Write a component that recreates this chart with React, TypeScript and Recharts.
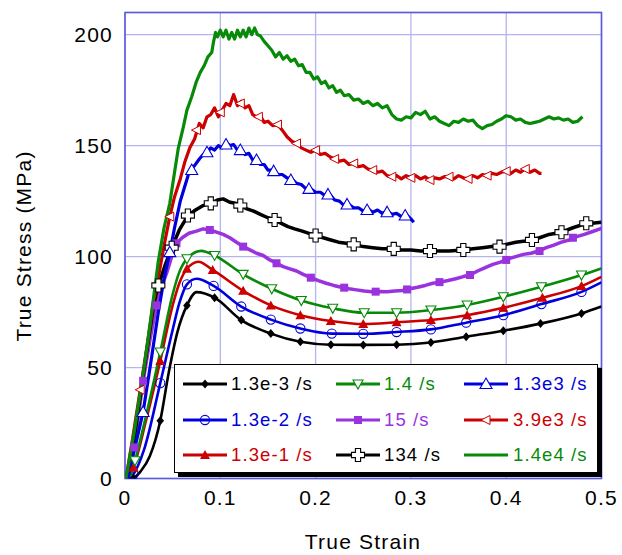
import React from 'react';
import { LineChart, Line, XAxis, YAxis, CartesianGrid, ReferenceArea, Label } from 'recharts';

type P = [number, number];

const xTicks = [0, 0.1, 0.2, 0.3, 0.4, 0.5];
const yTicks = [0, 50, 100, 150, 200];

// 1.3e-3 /s
const r13em3Marks: P[] = [[0.009,0],[0.037,26],[0.065,78],[0.094,81.5],[0.122,71.4],[0.153,65.3],[0.184,61.6],[0.216,60.3],[0.25,60.2],[0.285,60.3],[0.321,61.3],[0.358,63.9],[0.397,66.6],[0.436,69.8],[0.479,74.4]];
const r13em3Extra: P[] = [[0.016,3],[0.026,10],[0.046,48],[0.055,66],[0.075,84],[0.5,77.5]];
// 1.3e-2 /s
const r13em2Marks: P[] = [[0.009,2],[0.037,43],[0.065,87.5],[0.093,86.8],[0.122,77.5],[0.153,71.6],[0.184,67.6],[0.217,65.3],[0.25,65.2],[0.285,66],[0.321,67.2],[0.358,70.2],[0.397,73.6],[0.437,78.6],[0.479,84.1]];
const r13em2Extra: P[] = [[0.005,0],[0.02,13],[0.05,67],[0.057,79],[0.075,90],[0.5,88.4]];
// 1.3e-1 /s
const r13em1Marks: P[] = [[0.009,5],[0.037,53],[0.065,94.5],[0.092,94],[0.124,84.6],[0.153,78],[0.184,73.6],[0.216,71],[0.25,69.6],[0.285,70.4],[0.321,71.4],[0.359,73.6],[0.397,76.9],[0.438,81.4],[0.479,86.7]];
const r13em1Extra: P[] = [[0.004,0],[0.022,26],[0.05,78],[0.057,88],[0.077,97.7],[0.5,90.9]];
// 1.4 /s
const r14Marks: P[] = [[0.0105,8],[0.037,57],[0.065,99],[0.094,100.5],[0.124,92],[0.154,85.5],[0.185,80.2],[0.218,76.7],[0.251,74.7],[0.285,74.7],[0.321,75.9],[0.359,78.2],[0.397,81.9],[0.437,86.4],[0.479,91.7]];
const r14Extra: P[] = [[0.005,0],[0.023,30],[0.05,83],[0.057,93],[0.08,102.6],[0.5,94.7]];
// 15 /s
const r15Line: P[] = [[0.002,0],[0.0098,14],[0.019,44],[0.026,62],[0.033,78],[0.039,87],[0.044,93],[0.049,100],[0.054,106],[0.06,108.5],[0.067,110.5],[0.075,111.5],[0.082,112.5],[0.089,112],[0.096,111],[0.103,110],[0.11,108.5],[0.117,106.5],[0.124,104.5],[0.131,103],[0.138,101.5],[0.145,100.5],[0.152,98.5],[0.159,97],[0.166,95.5],[0.173,94.5],[0.18,93.5],[0.187,92],[0.195,90.5],[0.203,89.2],[0.211,88],[0.219,87],[0.227,86.2],[0.235,85.5],[0.243,85],[0.251,84.5],[0.259,84.2],[0.267,84.3],[0.275,84.2],[0.283,84.5],[0.291,84.7],[0.299,85.5],[0.307,86.2],[0.315,87],[0.323,88],[0.331,88.5],[0.339,89.2],[0.347,90],[0.355,91],[0.362,91.7],[0.37,93.5],[0.378,95],[0.386,96.5],[0.394,97.5],[0.402,99],[0.41,100],[0.418,101],[0.426,101.5],[0.434,102.5],[0.442,104],[0.45,105.2],[0.458,106.5],[0.466,107.5],[0.474,109],[0.482,110],[0.49,111.2],[0.5,112.7]];
const r15Marks: P[] = [[0.0098,14],[0.019,44],[0.033,78],[0.054,106],[0.089,112],[0.124,104.5],[0.159,97],[0.195,90.5],[0.23,86],[0.263,84.2],[0.296,85.2],[0.33,88.5],[0.362,91.7],[0.4,98.5],[0.435,102.5],[0.47,108.5]];
// 134 /s
const r134Line: P[] = [[0.003,0],[0.012,25],[0.022,55],[0.03,78],[0.035,87],[0.042,96],[0.049,104],[0.057,112],[0.066,118.5],[0.074,121],[0.082,123],[0.09,124],[0.097,125.5],[0.103,126],[0.11,124.5],[0.116,124],[0.121,123],[0.128,121.5],[0.135,120.5],[0.142,119],[0.15,117.5],[0.157,116.5],[0.164,115],[0.171,113.5],[0.178,112.5],[0.186,111.5],[0.193,110.5],[0.2,109.5],[0.208,108.5],[0.216,107.5],[0.224,106.5],[0.232,106],[0.24,105.5],[0.25,104.5],[0.26,104],[0.27,103.5],[0.282,103.5],[0.29,103],[0.3,103],[0.31,102.5],[0.32,102.5],[0.33,102.5],[0.34,102.5],[0.355,103],[0.365,103.5],[0.375,104],[0.385,104.5],[0.393,104.5],[0.4,105.5],[0.41,106.5],[0.42,107],[0.427,107.5],[0.435,108.5],[0.445,110],[0.458,111],[0.47,113],[0.484,115],[0.49,115],[0.5,115.5]];
const r134Marks: P[] = [[0.035,87],[0.049,104],[0.066,118.5],[0.09,124],[0.121,123],[0.157,116.5],[0.2,109.5],[0.24,105.5],[0.282,103.5],[0.32,102.5],[0.355,103],[0.393,104.5],[0.427,107.5],[0.458,111],[0.484,115]];
// 1.3e3 /s
const r13e3Line: P[] = [[0.003,0],[0.011,15],[0.019,30],[0.027,52],[0.035,75],[0.041,90],[0.047,102],[0.052,113],[0.058,125],[0.063,132],[0.068,139],[0.073,141],[0.078,144],[0.082,146],[0.086,147],[0.09,149],[0.094,148],[0.098,150],[0.102,149],[0.106,151.5],[0.11,150],[0.114,150.5],[0.118,148],[0.122,148.5],[0.126,146],[0.13,146.5],[0.134,143.5],[0.138,144],[0.142,141.5],[0.146,141.5],[0.15,139],[0.155,139],[0.16,137],[0.165,137],[0.17,135.5],[0.175,135],[0.18,133],[0.185,132.5],[0.19,130.5],[0.195,130.5],[0.2,129],[0.205,129],[0.21,127.5],[0.215,128],[0.22,125.5],[0.225,125],[0.23,123],[0.235,123.5],[0.24,122],[0.245,122],[0.25,120.5],[0.255,121.5],[0.26,120],[0.265,121],[0.27,119.5],[0.275,120.5],[0.28,119],[0.285,119.5],[0.29,118],[0.295,119],[0.3,117],[0.303,115.5]];
const r13e3Marks: P[] = [[0.019,30],[0.047,102],[0.07,139],[0.086,147],[0.106,150.5],[0.121,148],[0.138,143.5],[0.156,138.5],[0.174,134.5],[0.193,130.5],[0.213,128],[0.233,123.5],[0.254,121],[0.275,120],[0.294,118.5]];
// 3.9e3 /s
const r39e3Line: P[] = [[0.001,0],[0.008,18],[0.016,40],[0.024,62],[0.03,80],[0.036,93],[0.041,105],[0.047,118],[0.052,127],[0.058,135],[0.063,143],[0.068,149],[0.073,153],[0.078,160],[0.082,158],[0.086,163],[0.09,164],[0.094,167],[0.098,163],[0.102,166],[0.106,169],[0.11,168],[0.114,173],[0.118,168],[0.122,170],[0.126,167],[0.13,168],[0.134,164],[0.138,163],[0.142,163.5],[0.146,160.5],[0.15,161],[0.155,159],[0.16,159.5],[0.165,157],[0.17,154],[0.175,152],[0.18,151],[0.185,149],[0.19,148],[0.195,147],[0.2,148],[0.205,146],[0.21,146.5],[0.215,145],[0.22,144],[0.225,143],[0.23,143.5],[0.235,141.5],[0.24,142],[0.245,140.5],[0.25,141],[0.255,139.5],[0.26,139],[0.265,138],[0.27,138.5],[0.275,136.5],[0.28,136],[0.285,136.5],[0.29,135],[0.295,136.5],[0.3,135.5],[0.305,136.5],[0.31,135],[0.315,136],[0.32,134.5],[0.325,135.5],[0.33,135],[0.335,136],[0.34,136],[0.345,135],[0.35,136.5],[0.355,135.5],[0.36,135],[0.365,136.5],[0.37,135.5],[0.375,137],[0.38,136.5],[0.385,137.5],[0.39,137],[0.395,138],[0.4,138.5],[0.405,137.5],[0.41,139],[0.415,138],[0.42,139.5],[0.425,138],[0.43,139],[0.435,137.5],[0.437,137.5]];
const r39e3Marks: P[] = [[0.016,40],[0.047,118],[0.075,157],[0.1,165],[0.121,169],[0.14,163],[0.16,159.5],[0.18,151],[0.2,148],[0.22,144],[0.24,142],[0.26,139],[0.28,136],[0.3,135.5],[0.32,134.5],[0.34,136],[0.36,135],[0.38,136.5],[0.4,138.5],[0.42,139.5]];
// 1.4e4 /s
const r14e4Line: P[] = [[0.001,0],[0.01,22],[0.02,50],[0.028,75],[0.035,98],[0.041,113],[0.047,124],[0.052,138],[0.056,149],[0.061,158],[0.065,166],[0.07,172],[0.075,179],[0.079,183],[0.083,186],[0.087,190],[0.091,192],[0.093,197],[0.095,201],[0.097,199],[0.1,202],[0.103,199],[0.106,202],[0.109,198],[0.112,201],[0.115,198],[0.118,202],[0.121,199],[0.124,202],[0.127,199],[0.13,203],[0.133,200],[0.136,203],[0.139,200],[0.142,199.5],[0.146,197],[0.15,195],[0.154,193],[0.158,190],[0.162,192],[0.166,189],[0.17,190.5],[0.174,188],[0.178,189],[0.182,186],[0.186,186.5],[0.19,183],[0.194,183],[0.198,180],[0.202,181],[0.206,178],[0.21,179],[0.214,176],[0.218,177],[0.222,174],[0.226,175],[0.23,172.5],[0.235,173],[0.24,170.5],[0.245,171],[0.25,169],[0.255,170],[0.26,168],[0.265,169],[0.27,167],[0.275,168],[0.28,164],[0.285,162],[0.29,161.5],[0.295,163],[0.3,162.5],[0.305,165],[0.31,164],[0.315,165.5],[0.32,162],[0.325,163],[0.33,161],[0.335,160],[0.34,159],[0.345,161],[0.35,160.5],[0.355,162],[0.36,161],[0.365,161.5],[0.37,159],[0.375,157.7],[0.38,159],[0.385,159.5],[0.39,161],[0.395,162],[0.4,163.5],[0.405,163],[0.41,161.5],[0.415,162],[0.42,160.5],[0.425,160],[0.43,160.5],[0.435,161],[0.44,162],[0.445,163],[0.45,162],[0.455,162.5],[0.46,161.5],[0.465,162],[0.47,160.5],[0.475,161],[0.48,163]];

const BLACK = '#000000';
const BLUE = '#0000dd';
const RED = '#cc0000';
const GREEN = '#078a07';
const PURPLE = '#9933dd';
const GRID = '#b4b4f0';
const FRAME = '#5a5ae0';
const FONT = '"Liberation Sans", Arial, sans-serif';

type Shape = 'diamond' | 'circle' | 'triUpFill' | 'triDown' | 'square' | 'cross' | 'triUp' | 'triLeft' | 'none';

const toObj = (pts: P[]) => pts.map(([x, y]) => ({ x, y }));
const merge = (a: P[], b: P[]) => [...a, ...b].sort((p, q) => p[0] - q[0]);

interface Series {
  name: string;
  color: string;
  line: P[];
  marks: P[];
  shape: Shape;
  smooth: boolean;
  width: number;
  marksBelow?: boolean;
}

const SERIES: Series[] = [
  { name: '1.3e-3 /s', color: BLACK, line: merge(r13em3Marks, r13em3Extra), marks: r13em3Marks, shape: 'diamond', smooth: true, width: 2.6 },
  { name: '1.3e-2 /s', color: BLUE, line: merge(r13em2Marks, r13em2Extra), marks: r13em2Marks, shape: 'circle', smooth: true, width: 2.6 },
  { name: '1.3e-1 /s', color: RED, line: merge(r13em1Marks, r13em1Extra), marks: r13em1Marks, shape: 'triUpFill', smooth: true, width: 2.6 },
  { name: '1.4 /s', color: GREEN, line: merge(r14Marks, r14Extra), marks: r14Marks, shape: 'triDown', smooth: true, width: 2.6 },
  { name: '15 /s', color: PURPLE, line: r15Line, marks: r15Marks, shape: 'square', smooth: false, width: 3.5 },
  { name: '134 /s', color: BLACK, line: r134Line, marks: r134Marks, shape: 'cross', smooth: false, width: 3.5 },
  { name: '1.3e3 /s', color: BLUE, line: r13e3Line, marks: r13e3Marks, shape: 'triUp', smooth: false, width: 3.2 },
  { name: '3.9e3 /s', color: RED, line: r39e3Line, marks: r39e3Marks, shape: 'triLeft', smooth: false, width: 3.2, marksBelow: true },
  { name: '1.4e4 /s', color: GREEN, line: r14e4Line, marks: [], shape: 'none', smooth: false, width: 3.2 },
];

function Marker({ shape, color, cx, cy }: { shape: Shape; color: string; cx: number; cy: number }) {
  switch (shape) {
    case 'diamond':
      return <polygon points={`${cx},${cy - 4.5} ${cx + 3.8},${cy} ${cx},${cy + 4.5} ${cx - 3.8},${cy}`} fill={color} />;
    case 'circle':
      return <circle cx={cx} cy={cy} r={4.6} fill="none" stroke={color} strokeWidth={1.1} />;
    case 'triUpFill':
      return <polygon points={`${cx},${cy - 5} ${cx + 5},${cy + 4} ${cx - 5},${cy + 4}`} fill={color} />;
    case 'triDown':
      return <polygon points={`${cx - 5},${cy - 4} ${cx + 5},${cy - 4} ${cx},${cy + 5}`} fill="#fff" stroke={color} strokeWidth={1.1} />;
    case 'square':
      return <rect x={cx - 4} y={cy - 4} width={8} height={8} fill={color} />;
    case 'cross': {
      const a = 6.5, w = 2.6;
      const pts = [
        [cx - w, cy - a], [cx + w, cy - a], [cx + w, cy - w], [cx + a, cy - w], [cx + a, cy + w], [cx + w, cy + w],
        [cx + w, cy + a], [cx - w, cy + a], [cx - w, cy + w], [cx - a, cy + w], [cx - a, cy - w], [cx - w, cy - w],
      ].map((p) => p.join(',')).join(' ');
      return <polygon points={pts} fill="#fff" stroke={color} strokeWidth={1.1} />;
    }
    case 'triUp':
      return <polygon points={`${cx},${cy - 6} ${cx + 6},${cy + 4.5} ${cx - 6},${cy + 4.5}`} fill="#fff" stroke={color} strokeWidth={1.1} />;
    case 'triLeft':
      return <polygon points={`${cx - 5},${cy} ${cx + 4},${cy - 4.5} ${cx + 4},${cy + 4.5}`} fill="#fff" stroke={color} strokeWidth={1} />;
    default:
      return null;
  }
}

function markLine(s: Series, i: number) {
  if (!s.marks.length) return null;
  return (
    <Line
      key={`m${i}`}
      data={toObj(s.marks)}
      dataKey="y"
      stroke="none"
      isAnimationActive={false}
      legendType="none"
      activeDot={false}
      dot={(p: any) => (
        <Marker key={`d${i}-${p.index}`} shape={s.shape} color={s.color} cx={p.cx} cy={p.cy} />
      )}
    />
  );
}

function curveLine(s: Series, i: number) {
  return (
    <Line
      key={`l${i}`}
      data={toObj(s.line)}
      dataKey="y"
      type={s.smooth ? 'monotone' : 'linear'}
      stroke={s.color}
      strokeWidth={s.width}
      strokeLinejoin="round"
      dot={false}
      activeDot={false}
      isAnimationActive={false}
      legendType="none"
    />
  );
}

const legendCols = [
  { line: 8, text: 56 },
  { line: 161, text: 209 },
  { line: 289, text: 338 },
];
const legendRows = [19, 54.5, 90];

function LegendBox() {
  return (
    <div
      style={{
        position: 'absolute', left: 174, top: 364, width: 424, height: 109, boxSizing: 'border-box',
        border: '1.5px solid #000', boxShadow: '4px 4px 0 #000', background: '#fff',
        fontFamily: FONT, fontSize: 18.5, letterSpacing: 1.1,
      }}
    >
      {SERIES.map((s, i) => {
        const col = legendCols[Math.floor(i / 3)];
        const row = legendRows[i % 3];
        return (
          <React.Fragment key={s.name}>
            <svg style={{ position: 'absolute', left: col.line, top: row - 8 }} width={46} height={16}>
              <line x1={0} y1={8} x2={44} y2={8} stroke={s.color} strokeWidth={2.8} />
              <Marker shape={s.shape} color={s.color} cx={22} cy={8} />
            </svg>
            <span style={{ position: 'absolute', left: col.text, top: row - 11, lineHeight: '22px', color: s.color, whiteSpace: 'nowrap' }}>
              {s.name}
            </span>
          </React.Fragment>
        );
      })}
    </div>
  );
}

export default function App() {
  return (
    <div style={{ position: 'absolute', left: 0, top: 0, width: 622, height: 555, background: '#fff' }}>
      <LineChart width={622} height={555} margin={{ top: 12.5, right: 20.5, bottom: 0, left: 0 }}>
        <CartesianGrid stroke={GRID} strokeWidth={1.3} />
        <XAxis
          type="number"
          dataKey="x"
          domain={[0, 0.5]}
          ticks={xTicks}
          allowDataOverflow
          height={76.5}
          axisLine={false}
          tickLine={false}
          tickSize={0}
          tickMargin={12}
          tick={{ fill: '#000', fontSize: 21, fontFamily: FONT, letterSpacing: 1.2 }}
        >
          <Label
            content={() => (
              <text x={363} y={549} textAnchor="middle" fill="#000" fontSize={21} fontFamily={FONT} letterSpacing={1.2}>
                True Strain
              </text>
            )}
          />
        </XAxis>
        <YAxis
          type="number"
          domain={[0, 210]}
          ticks={yTicks}
          allowDataOverflow
          width={125}
          axisLine={false}
          tickLine={false}
          tickSize={0}
          tickMargin={12}
          tick={{ fill: '#000', fontSize: 21, fontFamily: FONT, letterSpacing: 1.2 }}
        >
          <Label
            content={() => (
              <text x={31} y={246} transform="rotate(-90 31 246)" textAnchor="middle" fill="#000" fontSize={21} fontFamily={FONT} letterSpacing={1.2}>
                True Stress (MPa)
              </text>
            )}
          />
        </YAxis>
        {SERIES.map((s, i) => [
          s.marksBelow ? markLine(s, i) : null,
          curveLine(s, i),
          s.marksBelow ? null : markLine(s, i),
        ])}
        <ReferenceArea x1={0} x2={0.5} y1={0} y2={210} fill="none" stroke={FRAME} strokeWidth={1.6} ifOverflow="visible" />
      </LineChart>
      <LegendBox />
    </div>
  );
}
